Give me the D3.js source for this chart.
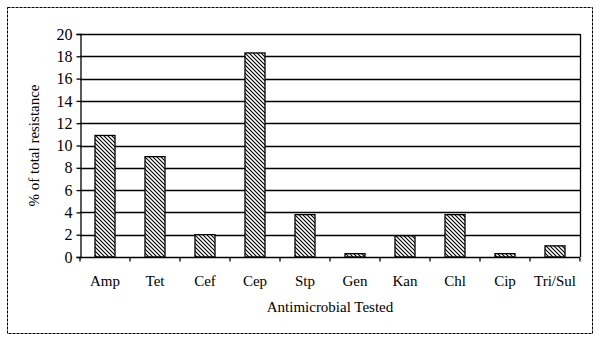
<!DOCTYPE html>
<html>
<head>
<meta charset="utf-8">
<script src="https://cdn.jsdelivr.net/npm/d3@7"></script>
<style>
  html, body { margin: 0; padding: 0; background: #fff; }
  svg text { font-family: "Liberation Serif", "Times New Roman", serif; fill: #000; }
</style>
</head>
<body>
<svg id="chart" width="600" height="341"></svg>
<script>
// Antimicrobial resistance share per drug tested
const categories = ["Amp", "Tet", "Cef", "Cep", "Stp", "Gen", "Kan", "Chl", "Cip", "Tri/Sul"];
const resistance = [10.9, 9.0, 2.0, 18.3, 3.8, 0.3, 1.9, 3.8, 0.3, 1.0];
const yTicks = [0, 2, 4, 6, 8, 10, 12, 14, 16, 18, 20];
const yTitle = "% of total resistance";
const xTitle = "Antimicrobial Tested";

const svg = d3.select("#chart");
const plot = { left: 80, right: 580, top: 34, bottom: 257 };

// Diagonal hatch fill for bars
const defs = svg.append("defs");
const pat = defs.append("pattern")
  .attr("id", "hatch")
  .attr("patternUnits", "userSpaceOnUse")
  .attr("width", 4).attr("height", 4);
pat.append("rect").attr("width", 4).attr("height", 4).attr("fill", "#fff");
pat.append("path")
  .attr("d", "M-1,-1 L5,5 M-1,3 L1,5 M3,-1 L5,1")
  .attr("stroke", "#000").attr("stroke-width", 1.1);

// Outer chart frame
svg.append("rect")
  .attr("x", 7.5).attr("y", 7.5)
  .attr("width", 585).attr("height", 326)
  .attr("fill", "#fff").attr("stroke", "#000").attr("stroke-width", 1)
  .attr("stroke-dasharray", "3,1");

const x = d3.scaleBand().domain(categories)
  .range([plot.left, plot.right]).paddingInner(0.6).paddingOuter(0.3);
const y = d3.scaleLinear().domain([0, 20]).range([plot.bottom, plot.top]);

// Horizontal gridlines
svg.append("g").selectAll("line").data(yTicks.filter(d => d > 0)).join("line")
  .attr("x1", plot.left).attr("x2", plot.right)
  .attr("y1", d => Math.round(y(d)) + 0.5).attr("y2", d => Math.round(y(d)) + 0.5)
  .attr("stroke", "#000").attr("stroke-width", 1.3);

// Right edge of plot area
svg.append("line")
  .attr("x1", plot.right + 0.5).attr("x2", plot.right + 0.5)
  .attr("y1", plot.top).attr("y2", plot.bottom)
  .attr("stroke", "#000").attr("stroke-width", 1.3);

// Bars
svg.append("g").selectAll("rect").data(categories).join("rect")
  .attr("x", d => x(d))
  .attr("y", (d, i) => y(resistance[i]))
  .attr("width", x.bandwidth())
  .attr("height", (d, i) => plot.bottom - y(resistance[i]))
  .attr("fill", "url(#hatch)")
  .attr("stroke", "#000").attr("stroke-width", 1.3);

// Y axis
const yAxis = d3.axisLeft(y).tickValues(yTicks).tickSize(4).tickPadding(4).tickFormat(d3.format("d"));
const gy = svg.append("g").attr("transform", `translate(${plot.left + 0.5},0)`).call(yAxis);
gy.selectAll("text").style("font-size", "16px");
gy.selectAll("line, path").attr("stroke", "#000").attr("stroke-width", 1.3);

// X axis with ticks at category boundaries
const gx = svg.append("g").attr("transform", `translate(0,${plot.bottom + 0.5})`);
gx.append("line").attr("x1", plot.left).attr("x2", plot.right)
  .attr("stroke", "#000").attr("stroke-width", 1.3);
const bounds = d3.range(categories.length + 1).map(i => plot.left + i * (plot.right - plot.left) / categories.length);
gx.selectAll("line.tick").data(bounds).join("line").attr("class", "tick")
  .attr("x1", d => d).attr("x2", d => d).attr("y1", 0).attr("y2", 4)
  .attr("stroke", "#000").attr("stroke-width", 1.3);
gx.selectAll("text").data(categories).join("text")
  .attr("x", d => x(d) + x.bandwidth() / 2)
  .attr("y", 28)
  .attr("text-anchor", "middle")
  .style("font-size", "15px")
  .text(d => d);

// Axis titles
svg.append("text")
  .attr("x", (plot.left + plot.right) / 2).attr("y", 312)
  .attr("text-anchor", "middle").style("font-size", "15px")
  .text(xTitle);
svg.append("text")
  .attr("transform", `translate(39,${(plot.top + plot.bottom) / 2}) rotate(-90)`)
  .attr("text-anchor", "middle").style("font-size", "15px")
  .text(yTitle);
</script>
</body>
</html>
